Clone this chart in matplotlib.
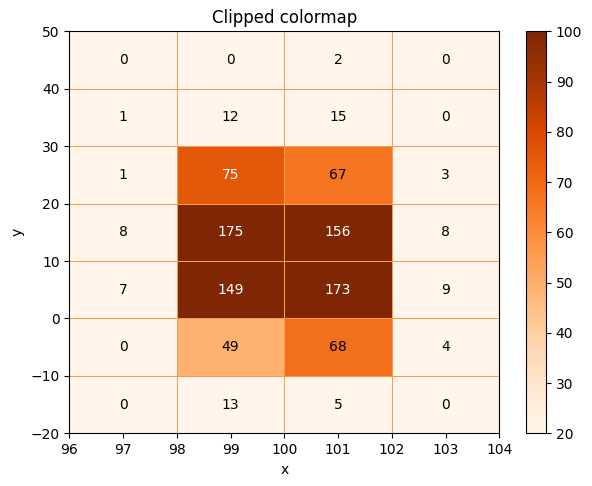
import matplotlib
matplotlib.use("Agg")
import matplotlib.pyplot as plt
import numpy as np

x_edges = [96, 98, 100, 102, 104]
y_edges = [-20, -10, 0, 10, 20, 30, 40, 50]
# counts, rows from bottom (y=-20..-10) to top (y=40..50)
counts = np.array([
    [0, 13, 5, 0],
    [0, 49, 68, 4],
    [7, 149, 173, 9],
    [8, 175, 156, 8],
    [1, 75, 67, 3],
    [1, 12, 15, 0],
    [0, 0, 2, 0],
])
vmin, vmax = 20, 100

W, H = 592, 486
fig = plt.figure(figsize=(W / 100, H / 100), dpi=100)
ax = fig.add_axes([69.3 / W, 1 - 433.3 / H, (499.3 - 69.3) / W, (433.3 - 31.3) / H])
cax = fig.add_axes([526 / W, 1 - 433.3 / H, (546 - 526) / W, (433.3 - 31.3) / H])
mesh = ax.pcolormesh(x_edges, y_edges, counts, cmap="Oranges", vmin=vmin, vmax=vmax,
                     edgecolors="#fd9a4e", linewidth=0.5)
for i in range(len(y_edges) - 1):
    for j in range(len(x_edges) - 1):
        v = counts[i, j]
        cx = (x_edges[j] + x_edges[j + 1]) / 2
        cy = (y_edges[i] + y_edges[i + 1]) / 2
        ax.text(cx, cy, str(v), ha="center", va="center",
                color="white" if v > 70 else "black", fontsize=10)
fig.colorbar(mesh, cax=cax)
ax.set_title("Clipped colormap")
ax.set_xlabel("x")
ax.set_ylabel("y")
fig.savefig("out.png", dpi=100)
